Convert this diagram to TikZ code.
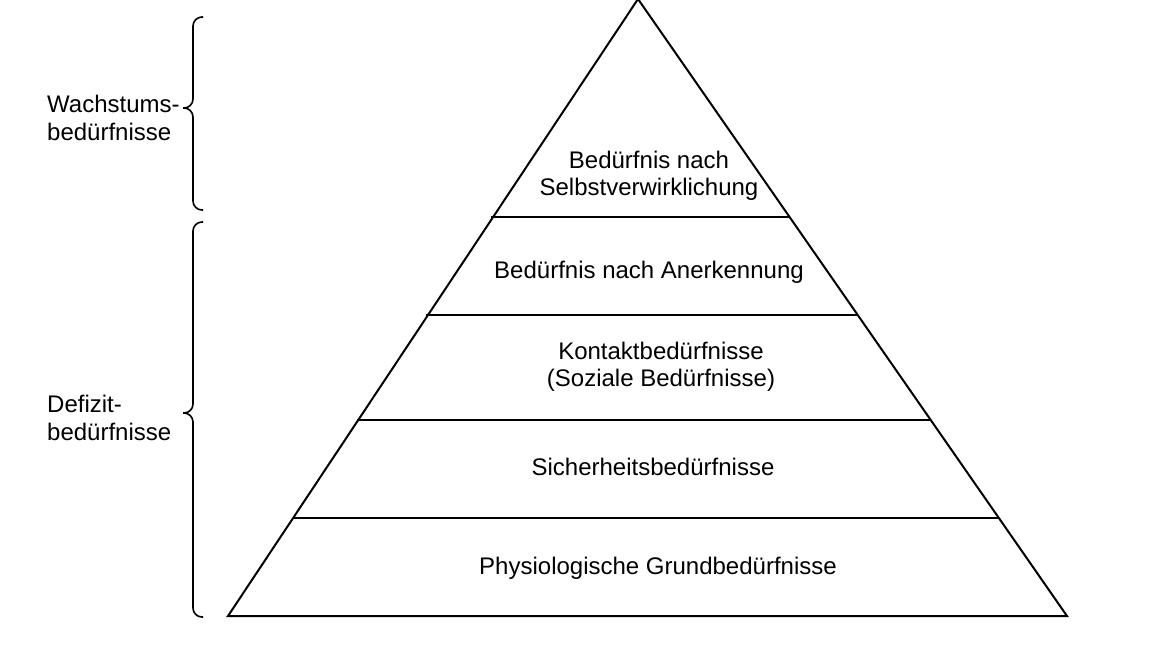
\documentclass[tikz,border=0pt]{standalone}
\usepackage{fontspec}
\setmainfont{Liberation Sans}
\begin{document}
\begin{tikzpicture}[x=1pt,y=-1pt,
  lbl/.style={font=\fontsize{24}{27}\selectfont, align=center, inner sep=0pt},
  side/.style={font=\fontsize{24}{27.5}\selectfont, align=left, anchor=west, inner sep=0pt},
  ln/.style={line width=2pt},
  br/.style={line width=1.6pt, rounded corners=9pt}]
\useasboundingbox (0,0) rectangle (1156,662);
\coordinate (A) at (638,-1);
\coordinate (L) at (228,616);
\coordinate (R) at (1067,616);
\draw[ln, line join=miter] (L) -- (A) -- (R) -- cycle;
\coordinate (l1) at (491,217); \coordinate (r1) at (790,217);
\coordinate (l2) at (426,315); \coordinate (r2) at (857,315);
\coordinate (l3) at (357,420); \coordinate (r3) at (930,420);
\coordinate (l4) at (293,518); \coordinate (r4) at (998,518);
\draw[ln] (l1) -- (r1);
\draw[ln] (l2) -- (r2);
\draw[ln] (l3) -- (r3);
\draw[ln] (l4) -- (r4);
\node[lbl] (t5) at (649,176) {Bedürfnis nach\\Selbstverwirklichung};
\node[lbl] (t4) at (649,272) {Bedürfnis nach Anerkennung};
\node[lbl] (t3) at (661,367) {Kontaktbedürfnisse\\(Soziale Bedürfnisse)};
\node[lbl] (t2) at (653,467) {Sicherheitsbedürfnisse};
\node[lbl] (t1) at (658,568) {Physiologische Grundbedürfnisse};
% braces
\draw[br] (203,17) -- (193,17) -- (193,108) -- (183,108) ;
\draw[br] (183,108) -- (193,108) -- (193,210) -- (203,210);
\draw[br] (203,222) -- (193,222) -- (193,413) -- (183,413);
\draw[br] (183,413) -- (193,413) -- (193,617) -- (203,617);
\node[side] (w) at (47,118) {Wachstums-\\bedürfnisse};
\node[side] (d) at (47,418) {Defizit-\\bedürfnisse};
\end{tikzpicture}
\end{document}
